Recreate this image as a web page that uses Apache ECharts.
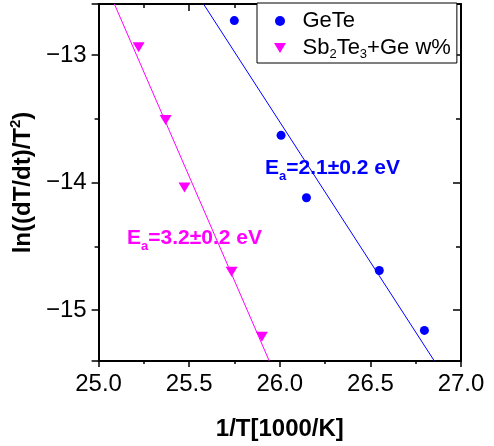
<!DOCTYPE html>
<html><head><meta charset="utf-8">
<script src="https://cdn.jsdelivr.net/npm/echarts@6/dist/echarts.min.js"></script>
<style>html,body{margin:0;padding:0;background:#fff}#c{width:494px;height:446px}</style>
</head><body><div id="c"></div>
<script>
// ---- data ----
const seriesNames = ['GeTe', 'Sb2Te3+Ge w%'];
const geteX = [25.749, 26.007, 26.147, 26.549, 26.798];
const geteY = [-12.73, -13.63, -14.12, -14.69, -15.16];
const sbX = [25.221, 25.370, 25.474, 25.734, 25.901];
const sbY = [-12.94, -13.51, -14.04, -14.70, -15.21];
// linear fit lines (endpoints read at plot edges)
const geteFitX = [25.579, 26.853];
const geteFitY = [-12.6, -15.4];
const sbFitX = [25.087, 25.942];
const sbFitY = [-12.6, -15.4];
const xRange = [25, 27];
const yRange = [-15.4, -12.6];
const xTickStep = 0.5;
const annotations = ['E{sub|a}=2.1±0.2 eV', 'E{sub|a}=3.2±0.2 eV'];
const xTitle = '1/T[1000/K]';
const yTitle = 'ln((dT/dt)/T{sup|2})';

const FONT = 'Liberation Sans';
const BLUE = '#0000ff', PINK = '#ff00ff';
const pairs = (xs, ys) => xs.map((x, i) => [x, ys[i]]);
const downTri = 'path://M0,0 L12,0 L6,10 Z';

const chart = echarts.init(document.getElementById('c'), null, {renderer: 'canvas'});
const axisLine = {show: true, onZero: false, lineStyle: {color: '#000', width: 2}};
const yFmt = v => Math.abs(v - Math.round(v)) < 1e-6 ? (v < 0 ? '\u2212' : '') + Math.abs(Math.round(v)) : '';

chart.setOption({
  animation: false,
  backgroundColor: '#fff',
  grid: {left: 97, right: 33, top: 4, bottom: 83, containLabel: false},
  xAxis: [{
    type: 'value', position: 'bottom', min: xRange[0], max: xRange[1], interval: xTickStep,
    axisLine, splitLine: {show: false},
    axisTick: {show: true, inside: false, length: 6, lineStyle: {color: '#000', width: 1.5}},
    minorTick: {show: true, splitNumber: 2, length: 3, lineStyle: {color: '#000', width: 1.5}},
    axisLabel: {fontFamily: FONT, fontSize: 24, color: '#000', margin: 11, formatter: v => v.toFixed(1)},
    name: xTitle, nameLocation: 'middle', nameGap: 56,
    nameTextStyle: {fontFamily: FONT, fontSize: 24, fontWeight: 'bold', color: '#000'}
  }, {
    type: 'value', position: 'top', min: xRange[0], max: xRange[1], interval: xTickStep,
    axisLine, splitLine: {show: false},
    axisTick: {show: true, inside: true, length: 7, lineStyle: {color: '#000', width: 1.5}},
    minorTick: {show: true, splitNumber: 2, length: 4, lineStyle: {color: '#000', width: 1.5}},
    axisLabel: {show: false}
  }],
  yAxis: [{
    type: 'value', position: 'left', min: yRange[0], max: yRange[1], splitNumber: 3,
    axisLine, splitLine: {show: false},
    axisTick: {show: true, inside: false, length: 7, lineStyle: {color: '#000', width: 1.5}},
    minorTick: {show: true, splitNumber: 2, length: 4, lineStyle: {color: '#000', width: 1.5}},
    axisLabel: {fontFamily: FONT, fontSize: 24, color: '#000', margin: 12, formatter: yFmt},
    name: yTitle, nameLocation: 'middle', nameGap: 50, nameRotate: 90,
    nameTextStyle: {fontFamily: FONT, fontSize: 24, fontWeight: 'bold', color: '#000',
      rich: {sup: {fontFamily: FONT, fontSize: 15, fontWeight: 'bold', color: '#000', verticalAlign: 'top', lineHeight: 30}}}
  }, {
    type: 'value', position: 'right', min: yRange[0], max: yRange[1], splitNumber: 3,
    axisLine, splitLine: {show: false},
    axisTick: {show: true, inside: true, length: 8, lineStyle: {color: '#000', width: 1.5}},
    minorTick: {show: true, splitNumber: 2, length: 5, lineStyle: {color: '#000', width: 1.5}},
    axisLabel: {show: false}
  }],
  legend: {
    data: seriesNames, orient: 'vertical', left: 257, top: 3,
    padding: [6, 6, 2, 17], itemGap: 2, itemWidth: 35, itemHeight: 10,
    backgroundColor: '#fff', borderColor: '#000', borderWidth: 1,
    formatter: n => n === seriesNames[1] ? 'Sb{sub|2}Te{sub|3}+Ge w%' : n,
    textStyle: {fontFamily: FONT, fontSize: 22, color: '#000', lineHeight: 24,
      rich: {sub: {fontFamily: FONT, fontSize: 13, color: '#000', verticalAlign: 'bottom', lineHeight: 26}}}
  },
  series: [
    {name: seriesNames[0], type: 'scatter', xAxisIndex: 0, yAxisIndex: 0, symbol: 'circle', symbolSize: 9,
     itemStyle: {color: BLUE, opacity: 1}, data: pairs(geteX, geteY), z: 5},
    {name: seriesNames[1], type: 'scatter', xAxisIndex: 0, yAxisIndex: 0, symbol: downTri, symbolSize: [12, 10],
     itemStyle: {color: PINK, opacity: 1}, data: pairs(sbX, sbY), z: 5},
    {name: 'GeTe fit', type: 'line', xAxisIndex: 0, yAxisIndex: 0, showSymbol: false, clip: true,
     lineStyle: {color: BLUE, width: 1}, data: pairs(geteFitX, geteFitY), z: 3},
    {name: 'Sb fit', type: 'line', xAxisIndex: 0, yAxisIndex: 0, showSymbol: false, clip: true,
     lineStyle: {color: PINK, width: 1}, data: pairs(sbFitX, sbFitY), z: 3}
  ],
  graphic: [
    {type: 'text', left: 265, top: 158, z: 10, style: {text: annotations[0], fill: BLUE,
      font: 'bold 21px "' + FONT + '"',
      rich: {sub: {fontFamily: FONT, fontSize: 13, fontWeight: 'bold', fill: BLUE, verticalAlign: 'bottom', lineHeight: 28}}}},
    {type: 'text', left: 127, top: 228, z: 10, style: {text: annotations[1], fill: PINK,
      font: 'bold 21px "' + FONT + '"',
      rich: {sub: {fontFamily: FONT, fontSize: 13, fontWeight: 'bold', fill: PINK, verticalAlign: 'bottom', lineHeight: 28}}}}
  ]
});
</script></body></html>
